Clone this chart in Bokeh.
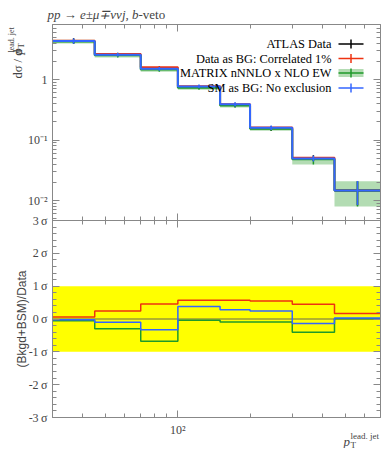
import math
from bokeh.plotting import figure
from bokeh.models import Range1d, FixedTicker, LinearAxis, LogAxis, Label, LinearScale
from bokeh.embed import file_html
from bokeh.resources import INLINE

# ---------------- data ----------------
edges = [30, 45, 70, 100, 150, 200, 300, 450, 700]

data_y   = [4.35, 2.60, 1.55, 0.750, 0.380, 0.157, 0.0505, 0.0146]
data_err = [0.45, 0.17, 0.11, 0.055, 0.032, 0.014, 0.0055, 0.0063]
red_y    = [4.38, 2.65, 1.60, 0.772, 0.391, 0.1605, 0.0512, 0.0148]
green_y  = [4.25, 2.52, 1.46, 0.735, 0.373, 0.154, 0.0483, 0.0147]
green_lo = [3.95, 2.32, 1.34, 0.680, 0.345, 0.143, 0.0395, 0.0080]
green_hi = [4.55, 2.70, 1.57, 0.790, 0.400, 0.165, 0.0515, 0.0209]
blue_y   = [4.34, 2.58, 1.51, 0.770, 0.389, 0.160, 0.0497, 0.0147]
blue_err = [0.45, 0.17, 0.11, 0.055, 0.032, 0.014, 0.0055, 0.0063]

red_sig   = [0.06, 0.24, 0.46, 0.57, 0.57, 0.55, 0.45, 0.17]
green_sig = [-0.05, -0.30, -0.68, -0.04, -0.09, -0.09, -0.40, 0.01]
blue_sig  = [-0.02, -0.10, -0.33, 0.38, 0.28, 0.24, -0.14, 0.03]
band_lo, band_hi = -1, 1

legend_labels = ["ATLAS Data", "Data as BG: Correlated 1%",
                 "MATRIX nNNLO x NLO EW", "SM as BG: No exclusion"]

y_major = [0.01, 0.1, 1]
y_major_labels = ["10⁻²", "10⁻¹", "1"]
r_major = [-3, -2, -1, 0, 1, 2, 3]
r_major_labels = ["-3\u2009σ", "-2\u2009σ", "-1\u2009σ", "0\u2009σ",
                  "1\u2009σ", "2\u2009σ", "3\u2009σ"]
x_major = [100]
x_major_labels = ["10²"]
x_minor = [30, 40, 50, 60, 70, 80, 90, 200, 300, 400, 500, 600, 700]

# ---------------- layout constants (canvas pixels) ----------------
W, H = 390, 448
X0, X1 = 30, 700
YT_MAX, YT_MIN = 10 ** 0.91, 10 ** -2.33
R_MIN, R_MAX = -3, 3
FL, FR = 52, 380
TT, TB = 24, 220
BT, BB = 220, 417

RED = "#EE3311"
GREEN = "#1f9a2a"
GBAND = "#b3dcb3"
BLUE = "#3366FF"
AX = "#888888"
SERIF = "Liberation Serif"


def xd(px):
    return 10 ** (math.log10(X0) + (px - FL) / (FR - FL) * math.log10(X1 / X0))


def ytd(py):
    return 10 ** (math.log10(YT_MAX) - (py - TT) / (TB - TT) * math.log10(YT_MAX / YT_MIN))


def yrd(py):
    return R_MAX - (py - BT) / (BB - BT) * (R_MAX - R_MIN)


centers = [math.sqrt(a * b) for a, b in zip(edges[:-1], edges[1:])]

p = figure(width=W, height=H, x_axis_type="log", y_axis_type="log",
           x_range=Range1d(xd(0), xd(W)), y_range=Range1d(ytd(H), ytd(0)),
           x_axis_location=None, y_axis_location=None,
           output_backend="svg", toolbar_location=None,
           min_border=0, min_border_left=0, min_border_right=0,
           min_border_top=0, min_border_bottom=0)
p.extra_y_ranges = {"ratio": Range1d(yrd(H), yrd(0))}
p.extra_y_scales = {"ratio": LinearScale()}
p.xgrid.visible = False
p.ygrid.visible = False
p.outline_line_color = None


def add_axis(cls, place, ticks, minor, fixed, bounds, labels=None, show=False,
             tin=7, tout=0, mtin=4, mtout=0, rname=None):
    kw = {}
    if rname:
        kw["y_range_name"] = rname
    ax = cls(fixed_location=fixed, bounds=bounds, **kw)
    ax.ticker = FixedTicker(ticks=ticks, minor_ticks=minor)
    ax.axis_line_color = AX
    ax.major_tick_line_color = AX
    ax.minor_tick_line_color = AX
    ax.major_tick_in = tin
    ax.major_tick_out = tout
    ax.minor_tick_in = mtin
    ax.minor_tick_out = mtout
    if labels:
        ax.major_label_overrides = labels
    ax.major_label_text_font = SERIF
    if show:
        ax.major_label_text_font_size = "12px"
        ax.major_label_standoff = 5
    else:
        ax.major_label_text_font_size = "0px"
        ax.major_label_text_color = None
        ax.major_label_standoff = 0
    p.add_layout(ax, place)
    return ax


y_minor = [k * d for d in [0.001, 0.01, 0.1, 1] for k in range(1, 10)
           if YT_MIN <= k * d <= YT_MAX]
r_minor = [round(-3 + 0.2 * i, 2) for i in range(31)]

# top panel axes
add_axis(LogAxis, "left", y_major, y_minor, X0, (YT_MIN, YT_MAX),
         dict(zip(y_major, y_major_labels)), show=True)
add_axis(LogAxis, "right", y_major, y_minor, X1, (YT_MIN, YT_MAX))
add_axis(LogAxis, "above", x_major, x_minor, YT_MAX, (X0, X1))
add_axis(LogAxis, "below", x_major, x_minor, YT_MIN, (X0, X1), tout=7, mtout=4)
# ratio panel axes
add_axis(LinearAxis, "left", r_major, r_minor, X0, (R_MIN, R_MAX),
         dict(zip(r_major, r_major_labels)), show=True, rname="ratio")
add_axis(LinearAxis, "right", r_major, r_minor, X1, (R_MIN, R_MAX), rname="ratio")
add_axis(LogAxis, "below", x_major, x_minor, R_MIN, (X0, X1),
         dict(zip(x_major, x_major_labels)), show=True, rname="ratio")

# ---------------- top panel marks ----------------
p.quad(left=edges[:-1], right=edges[1:], bottom=green_lo, top=green_hi,
       fill_color=GBAND, line_color=None)
p.segment(x0=edges[:-1], x1=edges[1:], y0=data_y, y1=data_y, line_color="black", line_width=2)
p.segment(x0=centers, x1=centers,
          y0=[v - e for v, e in zip(data_y, data_err)],
          y1=[v + e for v, e in zip(data_y, data_err)], line_color="black", line_width=1.5)
p.step(x=edges, y=red_y + red_y[-1:], mode="after", line_color=RED, line_width=2)
p.step(x=edges, y=green_y + green_y[-1:], mode="after", line_color=GREEN, line_width=2)
p.segment(x0=centers, x1=centers, y0=green_lo, y1=green_hi, line_color=GREEN, line_width=1.5)
p.step(x=edges, y=blue_y + blue_y[-1:], mode="after", line_color=BLUE, line_width=2)
p.segment(x0=centers, x1=centers,
          y0=[v - e for v, e in zip(blue_y, blue_err)],
          y1=[v + e for v, e in zip(blue_y, blue_err)], line_color=BLUE, line_width=1.5)

# legend (text left of symbol, right aligned)
leg_y = [43.5, 58, 72.5, 87.5]
leg_col = ["black", RED, GREEN, BLUE]
for lab, py, col in zip(legend_labels, leg_y, leg_col):
    p.add_layout(Label(x=xd(331), y=ytd(py), text=lab, text_align="right",
                       text_baseline="middle", text_font=SERIF,
                       text_font_size="12.4px", text_color="black"))
    if col == GREEN:
        p.quad(left=[xd(338)], right=[xd(363)], bottom=[ytd(py + 4)], top=[ytd(py - 4)],
               fill_color=GBAND, line_color=None)
    p.segment(x0=[xd(338)], x1=[xd(363)], y0=[ytd(py)], y1=[ytd(py)],
              line_color=col, line_width=1.5)
    p.segment(x0=[xd(350.5)], x1=[xd(350.5)], y0=[ytd(py - 4.5)], y1=[ytd(py + 4.5)],
              line_color=col, line_width=1.5)

# ---------------- ratio panel marks ----------------
p.quad(left=[edges[0]], right=[edges[-1]], bottom=[band_lo], top=[band_hi],
       fill_color="#FFFF00", line_color=None, y_range_name="ratio")
p.line(x=[edges[0], edges[-1]], y=[0, 0], line_color="#9a9a3a", line_width=1.5,
       y_range_name="ratio")
p.step(x=edges, y=red_sig + red_sig[-1:], mode="after", line_color=RED, line_width=1.5,
       y_range_name="ratio")
p.step(x=edges, y=green_sig + green_sig[-1:], mode="after", line_color=GREEN, line_width=1.5,
       y_range_name="ratio")
p.step(x=edges, y=blue_sig + blue_sig[-1:], mode="after", line_color=BLUE, line_width=1.5,
       y_range_name="ratio")

# ---------------- texts ----------------
p.add_layout(Label(x=xd(138), y=ytd(14), text="pp → e±μ∓ννj, b", text_align="right",
                   text_baseline="alphabetic", text_font=SERIF, text_font_style="italic",
                   text_font_size="13px"))
p.add_layout(Label(x=xd(138), y=ytd(14), text="-veto", text_align="left",
                   text_baseline="alphabetic", text_font=SERIF, text_font_size="13px"))

p.add_layout(Label(x=xd(17), y=ytd(78), text="dσ / d", angle=math.pi / 2,
                   text_align="left", text_baseline="alphabetic", text_font=SERIF,
                   text_font_size="12.5px"))
p.add_layout(Label(x=xd(17), y=ytd(54), text="p", angle=math.pi / 2,
                   text_align="left", text_baseline="alphabetic", text_font=SERIF,
                   text_font_style="italic", text_font_size="12.5px"))
p.add_layout(Label(x=xd(20), y=ytd(48), text="T", angle=math.pi / 2,
                   text_align="left", text_baseline="alphabetic", text_font=SERIF,
                   text_font_size="9px"))
p.add_layout(Label(x=xd(10.5), y=ytd(52), text="lead. jet", angle=math.pi / 2,
                   text_align="left", text_baseline="alphabetic", text_font=SERIF,
                   text_font_size="8px"))

p.add_layout(Label(x=xd(21), y=ytd(318.5), text="(Bkgd+BSM)/Data", angle=math.pi / 2,
                   text_align="center", text_baseline="alphabetic",
                   text_font="Liberation Sans", text_font_size="12px"))

p.add_layout(Label(x=xd(343), y=ytd(441), text="p", text_align="left",
                   text_baseline="alphabetic", text_font=SERIF, text_font_style="italic",
                   text_font_size="13px"))
p.add_layout(Label(x=xd(350), y=ytd(444), text="T", text_align="left",
                   text_baseline="alphabetic", text_font=SERIF, text_font_size="9px"))
p.add_layout(Label(x=xd(350), y=ytd(435), text="lead. jet", text_align="left",
                   text_baseline="alphabetic", text_font=SERIF, text_font_size="9px"))

open("out.html", "w").write(file_html(p, INLINE))
